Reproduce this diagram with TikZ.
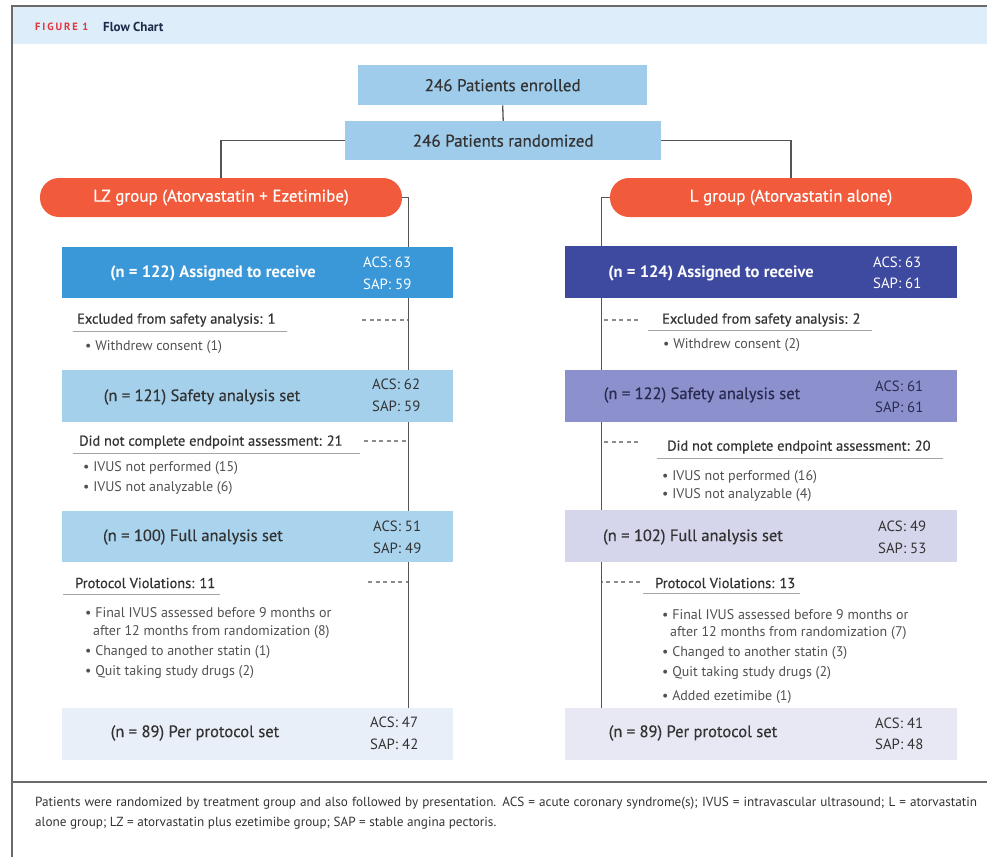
\documentclass[tikz,border=0pt]{standalone}
\usepackage{fontspec}
\setmainfont{PT Sans}
\newfontfamily\medfont{PT Sans}[FakeBold=0.5]
\newfontfamily\capsfont{PT Sans}[LetterSpace=18]
\usetikzlibrary{backgrounds}
\definecolor{framec}{HTML}{6A6A6A}
\definecolor{headc}{HTML}{DDEDF9}
\definecolor{topc}{HTML}{A0CCEC}
\definecolor{pillc}{HTML}{F15A3A}
\definecolor{lassign}{HTML}{3A98D8}
\definecolor{lsafe}{HTML}{A5D0EC}
\definecolor{lfull}{HTML}{AAD4EE}
\definecolor{lpp}{HTML}{E8EFF8}
\definecolor{rassign}{HTML}{3E4AA0}
\definecolor{rsafe}{HTML}{8C90CC}
\definecolor{rfull}{HTML}{D5D6EC}
\definecolor{rpp}{HTML}{E7E8F3}
\definecolor{textc}{HTML}{333333}
\definecolor{bulc}{HTML}{505050}
\definecolor{linec}{HTML}{555555}
\definecolor{figred}{HTML}{E0353A}
\definecolor{navy}{HTML}{1E2A4A}
\newcommand{\fTop}{\medfont\fontsize{17}{19}\selectfont}
\newcommand{\fBox}{\medfont\fontsize{16.5}{18}\selectfont}
\newcommand{\fBoxB}{\fontsize{16.5}{18}\selectfont\bfseries}
\newcommand{\fPill}{\medfont\fontsize{17}{19}\selectfont}
\newcommand{\fAcs}{\fontsize{14.8}{21.5}\selectfont}
\newcommand{\fSub}{\medfont\fontsize{14.4}{16}\selectfont}
\newcommand{\fBul}{\fontsize{14}{16}\selectfont}
\newcommand{\fFoot}{\fontsize{13.2}{15}\selectfont}
\tikzset{
  box/.style={rectangle, inner sep=0, anchor=north west, draw=none},
  conn/.style={draw=linec, line width=1.3},
  dsh/.style={draw=gray!90, line width=1.1, dash pattern=on 4pt off 3.5pt},
  pill/.style={rectangle, rounded corners=19, fill=pillc, text=white, inner sep=0,
    minimum width=362, minimum height=39, font=\fPill},
  btxt/.style={font=\fBox, text=textc, inner sep=0},
  wtxt/.style={font=\fBoxB, text=white, inner sep=0},
  acs/.style={align=left, anchor=west, font=\fAcs, inner sep=0},
  subt/.style={anchor=west, font=\fSub, text=textc, inner sep=0},
  bul/.style={anchor=west, font=\fBul, text=bulc, inner sep=0},
  uline/.style={draw=gray!70, line width=1},
}
\begin{document}
\begin{tikzpicture}[x=1pt,y=-1pt]
\useasboundingbox (0,0) rectangle (987,857);
% frame and header
\fill[headc] (13,7) rectangle (987,44);
\draw[framec, line width=2] (12,857) -- (12,6) -- (987,6);
\draw[framec, line width=2] (12,782) -- (987,782);
\node[anchor=west, inner sep=0, text=figred, font=\capsfont\fontsize{10.5}{12}\selectfont\bfseries] (fig) at (35,26.5) {FIGURE 1};
\node[anchor=west, inner sep=0, text=navy, font=\fontsize{13}{15}\selectfont\bfseries] (ftitle) at (103,26.5) {Flow Chart};

% top boxes
\node[box, fill=topc, minimum width=289, minimum height=40, font=\fTop, text=textc] (enr) at (358,65) {246 Patients enrolled};
\node[box, fill=topc, minimum width=316, minimum height=39, font=\fTop, text=textc] (rand) at (345,121) {246 Patients randomized};

% pills
\node[pill] (lz) at (221,197.5) {LZ group (Atorvastatin + Ezetimibe)};
\node[pill] (lg) at (791,197.5) {L group (Atorvastatin alone)};

% left boxes
\node[box, fill=lassign, minimum width=391, minimum height=51] (la) at (62,247) {};
\node[wtxt] (lat) at (213,273) {(n = 122) Assigned to receive};
\node[acs, text=white] (laa) at (363,273.5) {ACS: 63\\SAP: 59};

\node[subt] (lex) at (77,320) {Excluded from safety analysis: 1};
\draw[uline] (73,331) -- (287,331);
\node[bul] (lexb) at (85,347) {• Withdrew consent (1)};

\node[box, fill=lsafe, minimum width=391, minimum height=52] (ls) at (62,370) {};
\node[btxt] (lst) at (202,397) {(n = 121) Safety analysis set};
\node[acs, text=textc] (lsa) at (372,395.5) {ACS: 62\\SAP: 59};

\node[subt] (ldn) at (79,442) {Did not complete endpoint assessment: 21};
\draw[uline] (73,453) -- (360,453);
\node[bul] (ldnb1) at (83,468) {• IVUS not performed (15)};
\node[bul] (ldnb2) at (83,488) {• IVUS not analyzable (6)};

\node[box, fill=lfull, minimum width=391, minimum height=51] (lf) at (62,511) {};
\node[btxt] (lft) at (193,537) {(n = 100) Full analysis set};
\node[acs, text=textc] (lfa) at (373,537.5) {ACS: 51\\SAP: 49};

\node[subt] (lpv) at (75,583) {Protocol Violations: 11};
\draw[uline] (63,594) -- (220,594);
\node[bul] (lpv1) at (85,613) {• Final IVUS assessed before 9 months or};
\node[bul] (lpv1b) at (93,632) {after 12 months from randomization (8)};
\node[bul] (lpv2) at (85,652) {• Changed to another statin (1)};
\node[bul] (lpv3) at (85,672) {• Quit taking study drugs (2)};

\node[box, fill=lpp, minimum width=391, minimum height=52] (lp) at (62,708) {};
\node[btxt] (lpt) at (195,733) {(n = 89) Per protocol set};
\node[acs, text=textc] (lpa) at (370,733.5) {ACS: 47\\SAP: 42};

% right boxes
\node[box, fill=rassign, minimum width=392, minimum height=52] (ra) at (565,246) {};
\node[wtxt] (rat) at (711,273) {(n = 124) Assigned to receive};
\node[acs, text=white] (raa) at (873,273) {ACS: 63\\SAP: 61};

\node[subt] (rex) at (662,320) {Excluded from safety analysis: 2};
\draw[uline] (648,330) -- (872,330);
\node[bul] (rexb) at (663,345) {• Withdrew consent (2)};

\node[box, fill=rsafe, minimum width=392, minimum height=52] (rs) at (565,370) {};
\node[btxt, text=textc!85!blue] (rst) at (702,395) {(n = 122) Safety analysis set};
\node[acs, text=textc!85!blue] (rsa) at (875,397) {ACS: 61\\SAP: 61};

\node[subt] (rdn) at (667,447) {Did not complete endpoint assessment: 20};
\draw[uline] (657,458) -- (943,458);
\node[bul] (rdnb1) at (662,477) {• IVUS not performed (16)};
\node[bul] (rdnb2) at (662,495) {• IVUS not analyzable (4)};

\node[box, fill=rfull, minimum width=392, minimum height=52] (rf) at (565,510) {};
\node[btxt] (rft) at (693,537) {(n = 102) Full analysis set};
\node[acs, text=textc] (rfa) at (878,537.5) {ACS: 49\\SAP: 53};

\node[subt] (rpv) at (655,583) {Protocol Violations: 13};
\draw[uline] (643,593) -- (800,593);
\node[bul] (rpv1) at (662,615) {• Final IVUS assessed before 9 months or};
\node[bul] (rpv1b) at (670,633) {after 12 months from randomization (7)};
\node[bul] (rpv2) at (662,653) {• Changed to another statin (3)};
\node[bul] (rpv3) at (662,673) {• Quit taking study drugs (2)};
\node[bul] (rpv4) at (662,697) {• Added ezetimibe (1)};

\node[box, fill=rpp, minimum width=392, minimum height=52] (rp) at (565,708) {};
\node[btxt] (rpt) at (693,733) {(n = 89) Per protocol set};
\node[acs, text=textc] (rpa) at (875,734) {ACS: 41\\SAP: 48};

% footer
\node[anchor=west, inner sep=0, text=textc, font=\fFoot] (foot1) at (35,803) {\makebox[942pt][s]{Patients were randomized by treatment group and also followed by presentation. ACS = acute coronary syndrome(s); IVUS = intravascular ultrasound; L = atorvastatin}};
\node[anchor=west, inner sep=0, text=textc, font=\fFoot] (foot2) at (35,823) {alone group; LZ = atorvastatin plus ezetimibe group; SAP = stable angina pectoris.};

% connectors
\path (lz.east) ++(6,0) coordinate (lzc);
\path (lg.west) ++(-8,0) coordinate (lgc);
\coordinate (ld1) at (362,320);
\coordinate (ld2) at (364,441);
\coordinate (ld3) at (368,582);
\coordinate (rd1) at (638,320);
\coordinate (rd2) at (638,442);
\coordinate (rd3) at (640,582);
\begin{pgfonlayer}{background}
\draw[conn] (enr.south) -- (rand.north);
\draw[conn] (rand.west) -| (lz.north);
\draw[conn] (rand.east) -| (lg.north);
\draw[conn] (lz.east) -- (lzc) -- (lzc |- lp.north);
\draw[conn] (lg.west) -- (lgc) -- (lgc |- rp.north);
\draw[dsh] (ld1) -- (ld1 -| lzc);
\draw[dsh] (ld2) -- (ld2 -| lzc);
\draw[dsh] (ld3) -- (ld3 -| lzc);
\draw[dsh] (rd1) -- (rd1 -| lgc);
\draw[dsh] (rd2) -- (rd2 -| lgc);
\draw[dsh] (rd3) -- (rd3 -| lgc);
\end{pgfonlayer}
\end{tikzpicture}
\end{document}
